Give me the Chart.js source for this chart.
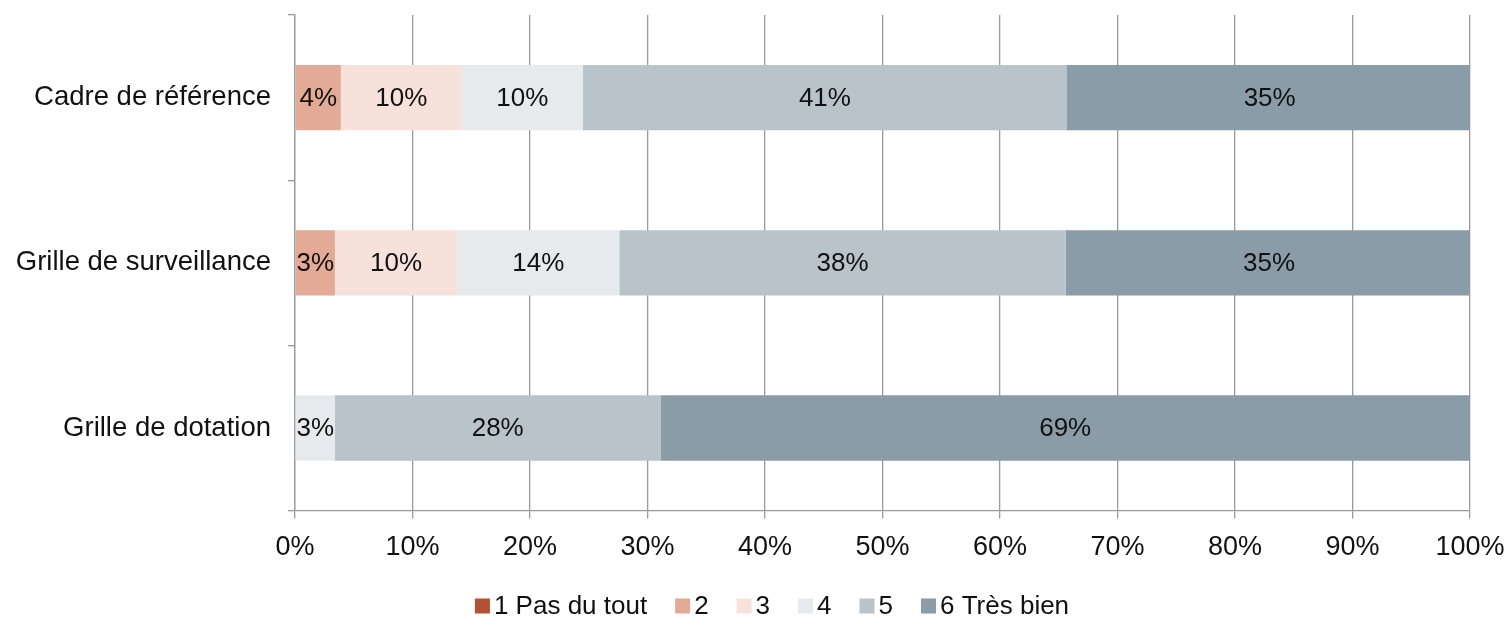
<!DOCTYPE html>
<html>
<head>
<meta charset="utf-8">
<script src="https://cdn.jsdelivr.net/npm/chart.js@4"></script>
<style>
  html, body { margin: 0; padding: 0; background: #fff; }
  #wrap { width: 1508px; height: 620px; }
</style>
</head>
<body>
<div id="wrap"><canvas id="chart"></canvas></div>
<script>
const categories = ["Cadre de référence", "Grille de surveillance", "Grille de dotation"];
const seriesNames = ["1 Pas du tout", "2", "3", "4", "5", "6 Très bien"];
const seriesColors = ["#b25231", "#e3aa96", "#f6e1db", "#e6eaed", "#b8c4ca", "#8a9ca7"];

const pasDuTout = [0, 0, 0];
const note2 = [3.9, 3.4, 0];
const note3 = [10.3, 10.4, 0];
const note4 = [10.3, 13.8, 3.4];
const note5 = [41.2, 38.0, 27.7];
const tresBien = [34.5, 34.6, 68.9];

const xTicks = [0, 10, 20, 30, 40, 50, 60, 70, 80, 90, 100];

const allSeries = [pasDuTout, note2, note3, note4, note5, tresBien];
const font = "'Liberation Sans', Arial, sans-serif";
const gridColor = "#9a9a9a";

// percent labels in the middle of each segment
const barLabels = {
  id: "barLabels",
  afterDatasetsDraw(chart) {
    const ctx = chart.ctx;
    ctx.save();
    ctx.font = "26px " + font;
    ctx.fillStyle = "#111";
    ctx.textAlign = "center";
    ctx.textBaseline = "middle";
    chart.data.datasets.forEach((ds, i) => {
      chart.getDatasetMeta(i).data.forEach((bar, j) => {
        const v = Math.round(ds.data[j]);
        if (v <= 0) return;
        ctx.fillText(v + "%", (bar.x + bar.base) / 2, bar.y + 1);
      });
    });
    ctx.restore();
  },
};

// legend drawn by hand so the box/text spacing matches
const bottomLegend = {
  id: "bottomLegend",
  afterDraw(chart) {
    const ctx = chart.ctx;
    const box = 15, gap = 4, space = 28, y = 606;
    ctx.save();
    ctx.font = "26px " + font;
    ctx.textBaseline = "middle";
    const items = chart.data.datasets.map((ds) => ({
      text: ds.label,
      color: ds.backgroundColor,
      w: box + gap + ctx.measureText(ds.label).width,
    }));
    const total = items.reduce((s, it) => s + it.w, 0) + space * (items.length - 1);
    let x = 772 - total / 2;
    items.forEach((it) => {
      ctx.fillStyle = it.color;
      ctx.fillRect(x, y - box / 2, box, box);
      ctx.fillStyle = "#111";
      ctx.fillText(it.text, x + box + gap, y + 1);
      x += it.w + space;
    });
    ctx.restore();
  },
};

new Chart(document.getElementById("chart"), {
  type: "bar",
  data: {
    labels: categories,
    datasets: allSeries.map((values, i) => ({
      label: seriesNames[i],
      data: values,
      backgroundColor: seriesColors[i],
      borderWidth: 0,
      categoryPercentage: 1,
      barPercentage: 0.395,
    })),
  },
  options: {
    indexAxis: "y",
    responsive: true,
    maintainAspectRatio: false,
    animation: false,
    layout: { padding: { top: 15, right: 38, bottom: 43, left: 0 } },
    plugins: {
      legend: { display: false },
      tooltip: { enabled: false },
    },
    scales: {
      x: {
        stacked: true,
        min: 0,
        max: 100,
        afterBuildTicks: (scale) => {
          scale.ticks = xTicks.map((v) => ({ value: v }));
        },
        afterFit: (scale) => {
          scale.paddingLeft = 0;
          scale.paddingRight = 0;
        },
        ticks: {
          color: "#111",
          padding: 13,
          maxRotation: 0,
          font: { family: font, size: 27 },
          callback: (v) => v + "%",
        },
        grid: { color: gridColor, lineWidth: 1.3, tickLength: 8 },
        border: { color: gridColor, width: 1.3 },
      },
      y: {
        stacked: true,
        afterFit: (scale) => {
          scale.width = 295;
          scale.paddingTop = 0;
          scale.paddingBottom = 0;
        },
        ticks: {
          color: "#111",
          padding: 17,
          font: { family: font, size: 27.5 },
        },
        grid: { drawOnChartArea: false, color: gridColor, lineWidth: 1.3, tickLength: 7 },
        border: { color: gridColor, width: 1.3 },
      },
    },
  },
  plugins: [barLabels, bottomLegend],
});
</script>
</body>
</html>
